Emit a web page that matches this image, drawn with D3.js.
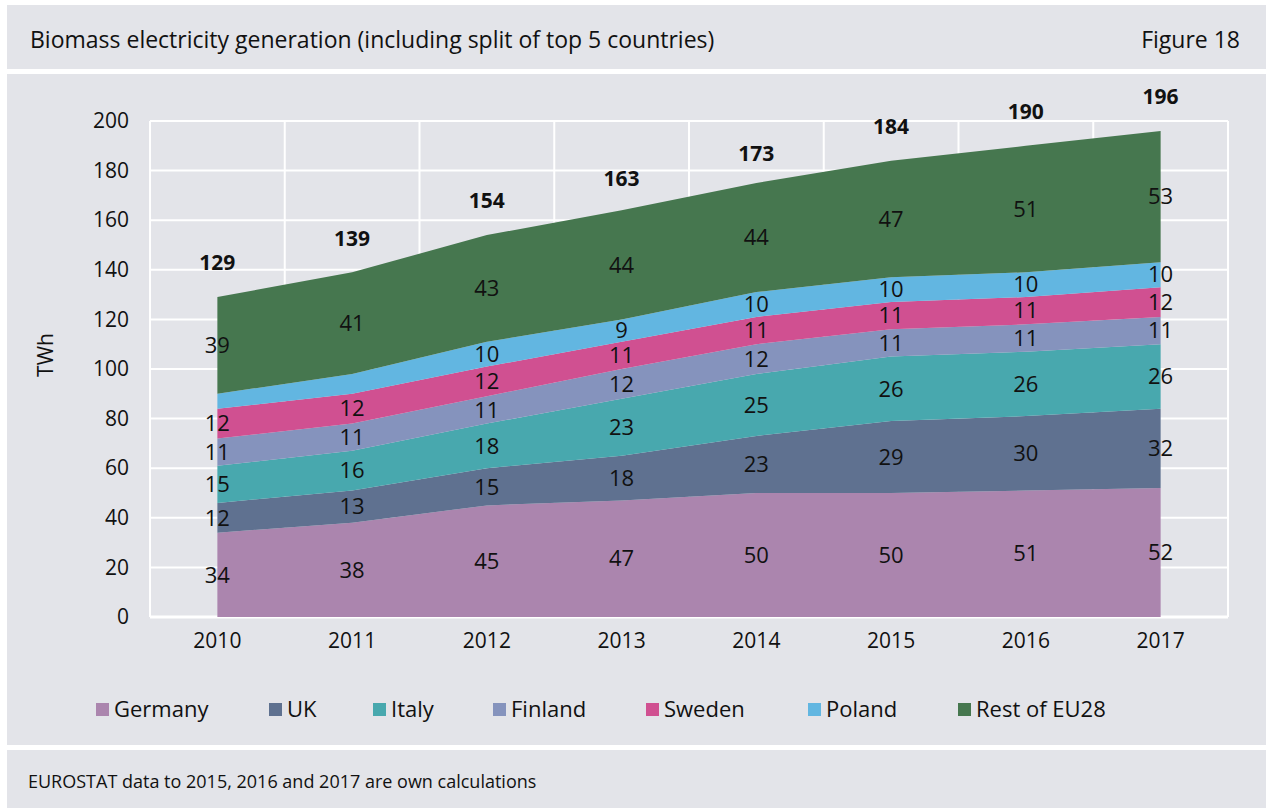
<!DOCTYPE html>
<html>
<head>
<meta charset="utf-8">
<script src="https://cdn.jsdelivr.net/npm/d3@7"></script>
<style>
  body { margin: 0; background: #fff; }
  svg { display: block; font-family: "Open Sans", sans-serif; }
</style>
</head>
<body>
<svg width="1266" height="808"></svg>
<script>
// data (TWh)
var years = ["2010", "2011", "2012", "2013", "2014", "2015", "2016", "2017"];
var germany = [34, 38, 45, 47, 50, 50, 51, 52];
var uk      = [12, 13, 15, 18, 23, 29, 30, 32];
var italy   = [15, 16, 18, 23, 25, 26, 26, 26];
var finland = [11, 11, 11, 12, 12, 11, 11, 11];
var sweden  = [12, 12, 12, 11, 11, 11, 11, 12];
var poland  = [6, 8, 10, 9, 10, 10, 10, 10];
var restEU  = [39, 41, 43, 44, 44, 47, 51, 53];
var totals  = [129, 139, 154, 163, 173, 184, 190, 196];
var yTicks  = [0, 20, 40, 60, 80, 100, 120, 140, 160, 180, 200];

var seriesNames = ["Germany", "UK", "Italy", "Finland", "Sweden", "Poland", "Rest of EU28"];
var seriesValues = [germany, uk, italy, finland, sweden, poland, restEU];
var colors = ["#ab85ae", "#5f7190", "#48a8ae", "#8593bd", "#d05091", "#62b6e1", "#46774f"];

var svg = d3.select("svg"),
    panel = "#e3e4e9";

// background panels
svg.append("rect").attr("x", 7).attr("y", 5).attr("width", 1259).attr("height", 64).attr("fill", panel);
svg.append("rect").attr("x", 7).attr("y", 74).attr("width", 1259).attr("height", 671).attr("fill", panel);
svg.append("rect").attr("x", 7).attr("y", 750).attr("width", 1259).attr("height", 58).attr("fill", panel);

// title + figure no
svg.append("text").attr("x", 30).attr("y", 48).attr("font-size", 23).attr("fill", "#111")
  .text("Biomass electricity generation (including split of top 5 countries)");
svg.append("text").attr("x", 1240).attr("y", 48).attr("font-size", 23).attr("fill", "#111")
  .attr("text-anchor", "end").text("Figure 18");

// footer
svg.append("text").attr("x", 28).attr("y", 788).attr("font-size", 18).attr("fill", "#111")
  .text("EUROSTAT data to 2015, 2016 and 2017 are own calculations");

// table for the stack
var table = years.map(function(y, i) {
  var row = { year: y };
  seriesNames.forEach(function(n, j) { row[n] = seriesValues[j][i]; });
  return row;
});

var plotLeft = 150, plotRight = 1228, plotTop = 121, plotBottom = 617;

var x = d3.scaleBand().domain(years).range([plotLeft, plotRight]);
var y = d3.scaleLinear().domain([0, 200]).range([plotBottom, plotTop]);
var cx = function(d) { return x(d) + x.bandwidth() / 2; };

// grid
var grid = svg.append("g");
grid.selectAll(".h").data(yTicks).enter().append("line")
  .attr("x1", plotLeft).attr("x2", plotRight)
  .attr("y1", function(d) { return y(d); }).attr("y2", function(d) { return y(d); })
  .attr("stroke", "#fff").attr("stroke-width", function(d) { return d === 0 ? 3 : 2; });
var vlines = years.map(function(d) { return x(d); }).concat([plotRight]);
grid.selectAll(".v").data(vlines).enter().append("line")
  .attr("x1", function(d) { return d; }).attr("x2", function(d) { return d; })
  .attr("y1", plotTop).attr("y2", plotBottom)
  .attr("stroke", "#fff").attr("stroke-width", 2);

// stacked areas
var stack = d3.stack().keys(seriesNames);
var layers = stack(table);
var area = d3.area()
  .x(function(d) { return cx(d.data.year); })
  .y0(function(d) { return y(d[0]); })
  .y1(function(d) { return y(d[1]); });

svg.append("g").selectAll("path").data(layers).enter().append("path")
  .attr("d", area)
  .attr("fill", function(d, i) { return colors[i]; });

// value labels (small Poland values are not labelled in the original)
var labels = svg.append("g").attr("font-size", 22).attr("fill", "#111").attr("text-anchor", "middle");
layers.forEach(function(layer) {
  layer.forEach(function(d) {
    var v = d[1] - d[0];
    if (v < 9) return;
    labels.append("text")
      .attr("x", cx(d.data.year))
      .attr("y", y((d[0] + d[1]) / 2))
      .attr("dy", "0.35em")
      .text(v);
  });
});

// totals
svg.append("g").selectAll("text").data(years).enter().append("text")
  .attr("x", function(d) { return cx(d); })
  .attr("y", function(d, i) { return y(totals[i]) - 34; })
  .attr("dy", "0.35em")
  .attr("text-anchor", "middle").attr("font-size", 21).attr("font-weight", "bold").attr("fill", "#111")
  .text(function(d, i) { return totals[i]; });

// axes
var yAxis = svg.append("g").attr("transform", "translate(" + (plotLeft - 21) + ",0)")
  .call(d3.axisLeft(y).tickValues(yTicks).tickSize(0).tickPadding(0));
yAxis.select(".domain").remove();
yAxis.selectAll("text").attr("font-size", 21).attr("fill", "#111").attr("font-family", "Open Sans");

var xAxis = svg.append("g").attr("transform", "translate(0," + plotBottom + ")")
  .call(d3.axisBottom(x).tickSize(0).tickPadding(16));
xAxis.select(".domain").remove();
xAxis.selectAll("text").attr("font-size", 21).attr("fill", "#111").attr("font-family", "Open Sans");

svg.append("text")
  .attr("transform", "translate(53,355) rotate(-90)")
  .attr("text-anchor", "middle").attr("font-size", 21).attr("fill", "#111")
  .text("TWh");

// legend
var legendX = [96, 269, 373, 493, 646, 808, 958];
var legend = svg.append("g").selectAll("g").data(seriesNames).enter().append("g")
  .attr("transform", function(d, i) { return "translate(" + legendX[i] + ",709)"; });
legend.append("rect").attr("x", 0).attr("y", -6).attr("width", 13).attr("height", 13)
  .attr("fill", function(d, i) { return colors[i]; });
legend.append("text").attr("x", 18).attr("dy", "0.35em").attr("font-size", 22).attr("fill", "#111")
  .text(function(d) { return d; });
</script>
</body>
</html>
